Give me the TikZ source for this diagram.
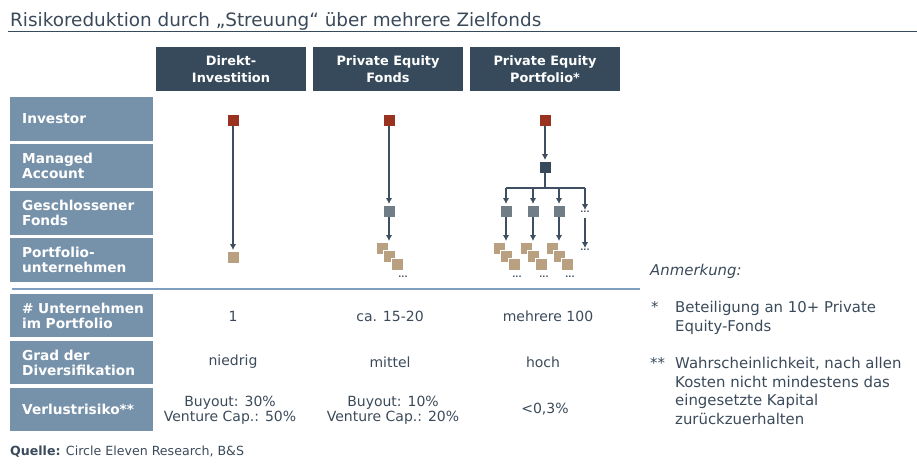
\documentclass[tikz,border=0pt]{standalone}
\usepackage{fontspec}
\setmainfont{DejaVu Sans}
\usepackage{xcolor}
\usetikzlibrary{arrows.meta,positioning}

\definecolor{headc}{HTML}{364A5C}
\definecolor{labelc}{HTML}{7692AA}
\definecolor{textc}{HTML}{3B4A5A}
\definecolor{arrowc}{HTML}{3D4F60}
\definecolor{sqred}{HTML}{99321E}
\definecolor{sqgray}{HTML}{6F7D87}
\definecolor{sqtan}{HTML}{B8A080}
\definecolor{sqdark}{HTML}{364A5C}
\definecolor{sepc}{HTML}{7F9FC0}

\begin{document}
\begin{tikzpicture}[x=1pt,y=-1pt,
  header/.style={fill=headc,text=white,font=\bfseries\fontsize{12.9}{17}\selectfont,
    minimum width=150pt,minimum height=44pt,align=center,inner sep=0pt},
  rowlabel/.style={fill=labelc,text=white,font=\bfseries\fontsize{13.7}{15}\selectfont,
    minimum height=43.5pt,text width=119pt,inner xsep=12pt,inner ysep=0pt,
    align=left,anchor=west},
  val/.style={text=textc,font=\fontsize{14}{15}\selectfont,align=center,inner sep=0pt},
  note/.style={text=textc,font=\fontsize{14.9}{18.6}\selectfont,align=left,inner sep=0pt},
  sq/.style={minimum size=11.5pt,inner sep=0pt,draw=white,line width=0.5pt},
  more/.style={text=arrowc,font=\bfseries\fontsize{8}{8}\selectfont,inner sep=0pt},
  arr/.style={draw=arrowc,line width=1.3pt,-{Latex[length=6pt,width=6.5pt]},shorten >=1pt},
  branch/.style={draw=arrowc,line width=1.3pt},
]
\useasboundingbox (0,0) rectangle (917,466);

% title
\node[text=textc,font=\fontsize{18.4}{20}\selectfont,anchor=base west,inner sep=0pt]
  (title) at (10,26) {Risikoreduktion durch „Streuung“ über mehrere Zielfonds};
\draw[headc,line width=1pt] (8,31.5) -- (917,31.5);

% column heads
\node[header] (h1) at (231,69) {Direkt-\\Investition};
\node[header] (h2) at (388,69) {Private Equity\\Fonds};
\node[header] (h3) at (545,69) {Private Equity\\Portfolio*};

% row labels
\node[rowlabel] (r1) at (10,119) {Investor};
\node[rowlabel] (r2) at (10,166) {Managed\\Account};
\node[rowlabel] (r3) at (10,213) {Geschlossener\\Fonds};
\node[rowlabel] (r4) at (10,260) {Portfolio-\\unternehmen};
\draw[sepc,line width=1.5pt] (12,289) -- (640,289);
\node[rowlabel] (r5) at (10,315.5) {\mbox{\#~Unternehmen}\\im Portfolio};
\node[rowlabel] (r6) at (10,362.5) {Grad der\\Diversifikation};
\node[rowlabel] (r7) at (10,409.5) {Verlustrisiko**};

% Direktinvestition
\node[sq,fill=sqred] (inv1) at (233,120) {};
\node[sq,fill=sqtan] (pu1) at (233,257) {};
\draw[arr] (inv1) -- (pu1);

% Private Equity Fonds
\node[sq,fill=sqred] (inv2) at (389,120) {};
\node[sq,fill=sqgray] (gf2) at (389,211) {};
\node[sq,fill=sqtan] (pa2) at (382,248) {};
\node[sq,fill=sqtan] (pb2) at (389,256) {};
\node[sq,fill=sqtan] (pc2) at (397,264) {};
\node[more] (m2) at (403,277) {...};
\draw[arr] (inv2) -- (gf2);
\draw[arr] (gf2) -- (gf2 |- pa2.north);

% Private Equity Portfolio
\node[sq,fill=sqred] (inv3) at (545,120) {};
\node[sq,fill=sqdark] (ma3) at (545,167) {};
\draw[arr] (inv3) -- (ma3);
\coordinate (fork) at (545,188);
\node[more] (gfd) at (585,212) {...};
\node[more] (pud) at (585,250) {...};
\draw[branch] (ma3) -- (fork);
\draw[branch] (fork -| 506,0) -- (fork -| gfd);
\draw[arr] (fork -| gfd) -- (gfd.north);
\draw[arr] (gfd.south) ++(0,5) -- (pud.north);
\foreach \n/\x in {a/506,b/533,c/559}{
  \node[sq,fill=sqgray] (gf\n) at (\x,211) {};
  \node[sq,fill=sqtan] (pa\n) at (\x-7,248) {};
  \node[sq,fill=sqtan] (pb\n) at (\x,256) {};
  \node[sq,fill=sqtan] (pc\n) at (\x+8,264) {};
  \node[more] (m\n) at (\x+11,277) {...};
  \draw[arr] (fork -| gf\n) -- (gf\n);
  \draw[arr] (gf\n) -- (gf\n |- pa\n.north);
}

% table values
\node[val] (v11) at (233,316) {1};
\node[val] (v12) at (390,316) {ca. 15-20};
\node[val] (v13) at (548,316) {mehrere 100};
\node[val] (v21) at (233,362) {niedrig};
\node[val] (v22) at (390,362) {mittel};
\node[val] (v23) at (543,362) {hoch};
\node[val] (v31) at (230,410) {Buyout: 30\%\\Venture Cap.: 50\%};
\node[val] (v32) at (393,410) {Buyout: 10\%\\Venture Cap.: 20\%};
\node[val] (v33) at (545,409) {<0,3\%};

% notes
\node[note,anchor=base west] (anm) at (650,275) {\itshape Anmerkung:};
\node[note,anchor=base west] (st1) at (651,312) {*};
\node[note,anchor=north west] (n1) at (675,301)
  {Beteiligung an 10+ Private\\Equity-Fonds};
\node[note,anchor=base west] (st2) at (650,368) {**};
\node[note,anchor=north west] (n2) at (675,357)
  {Wahrscheinlichkeit, nach allen\\Kosten nicht mindestens das\\eingesetzte Kapital\\zurückzuerhalten};

% source
\node[text=textc,font=\fontsize{12.6}{14}\selectfont,anchor=base west,inner sep=0pt]
  (src) at (10,455) {\textbf{Quelle:} Circle Eleven Research, B\&S};
\end{tikzpicture}
\end{document}
